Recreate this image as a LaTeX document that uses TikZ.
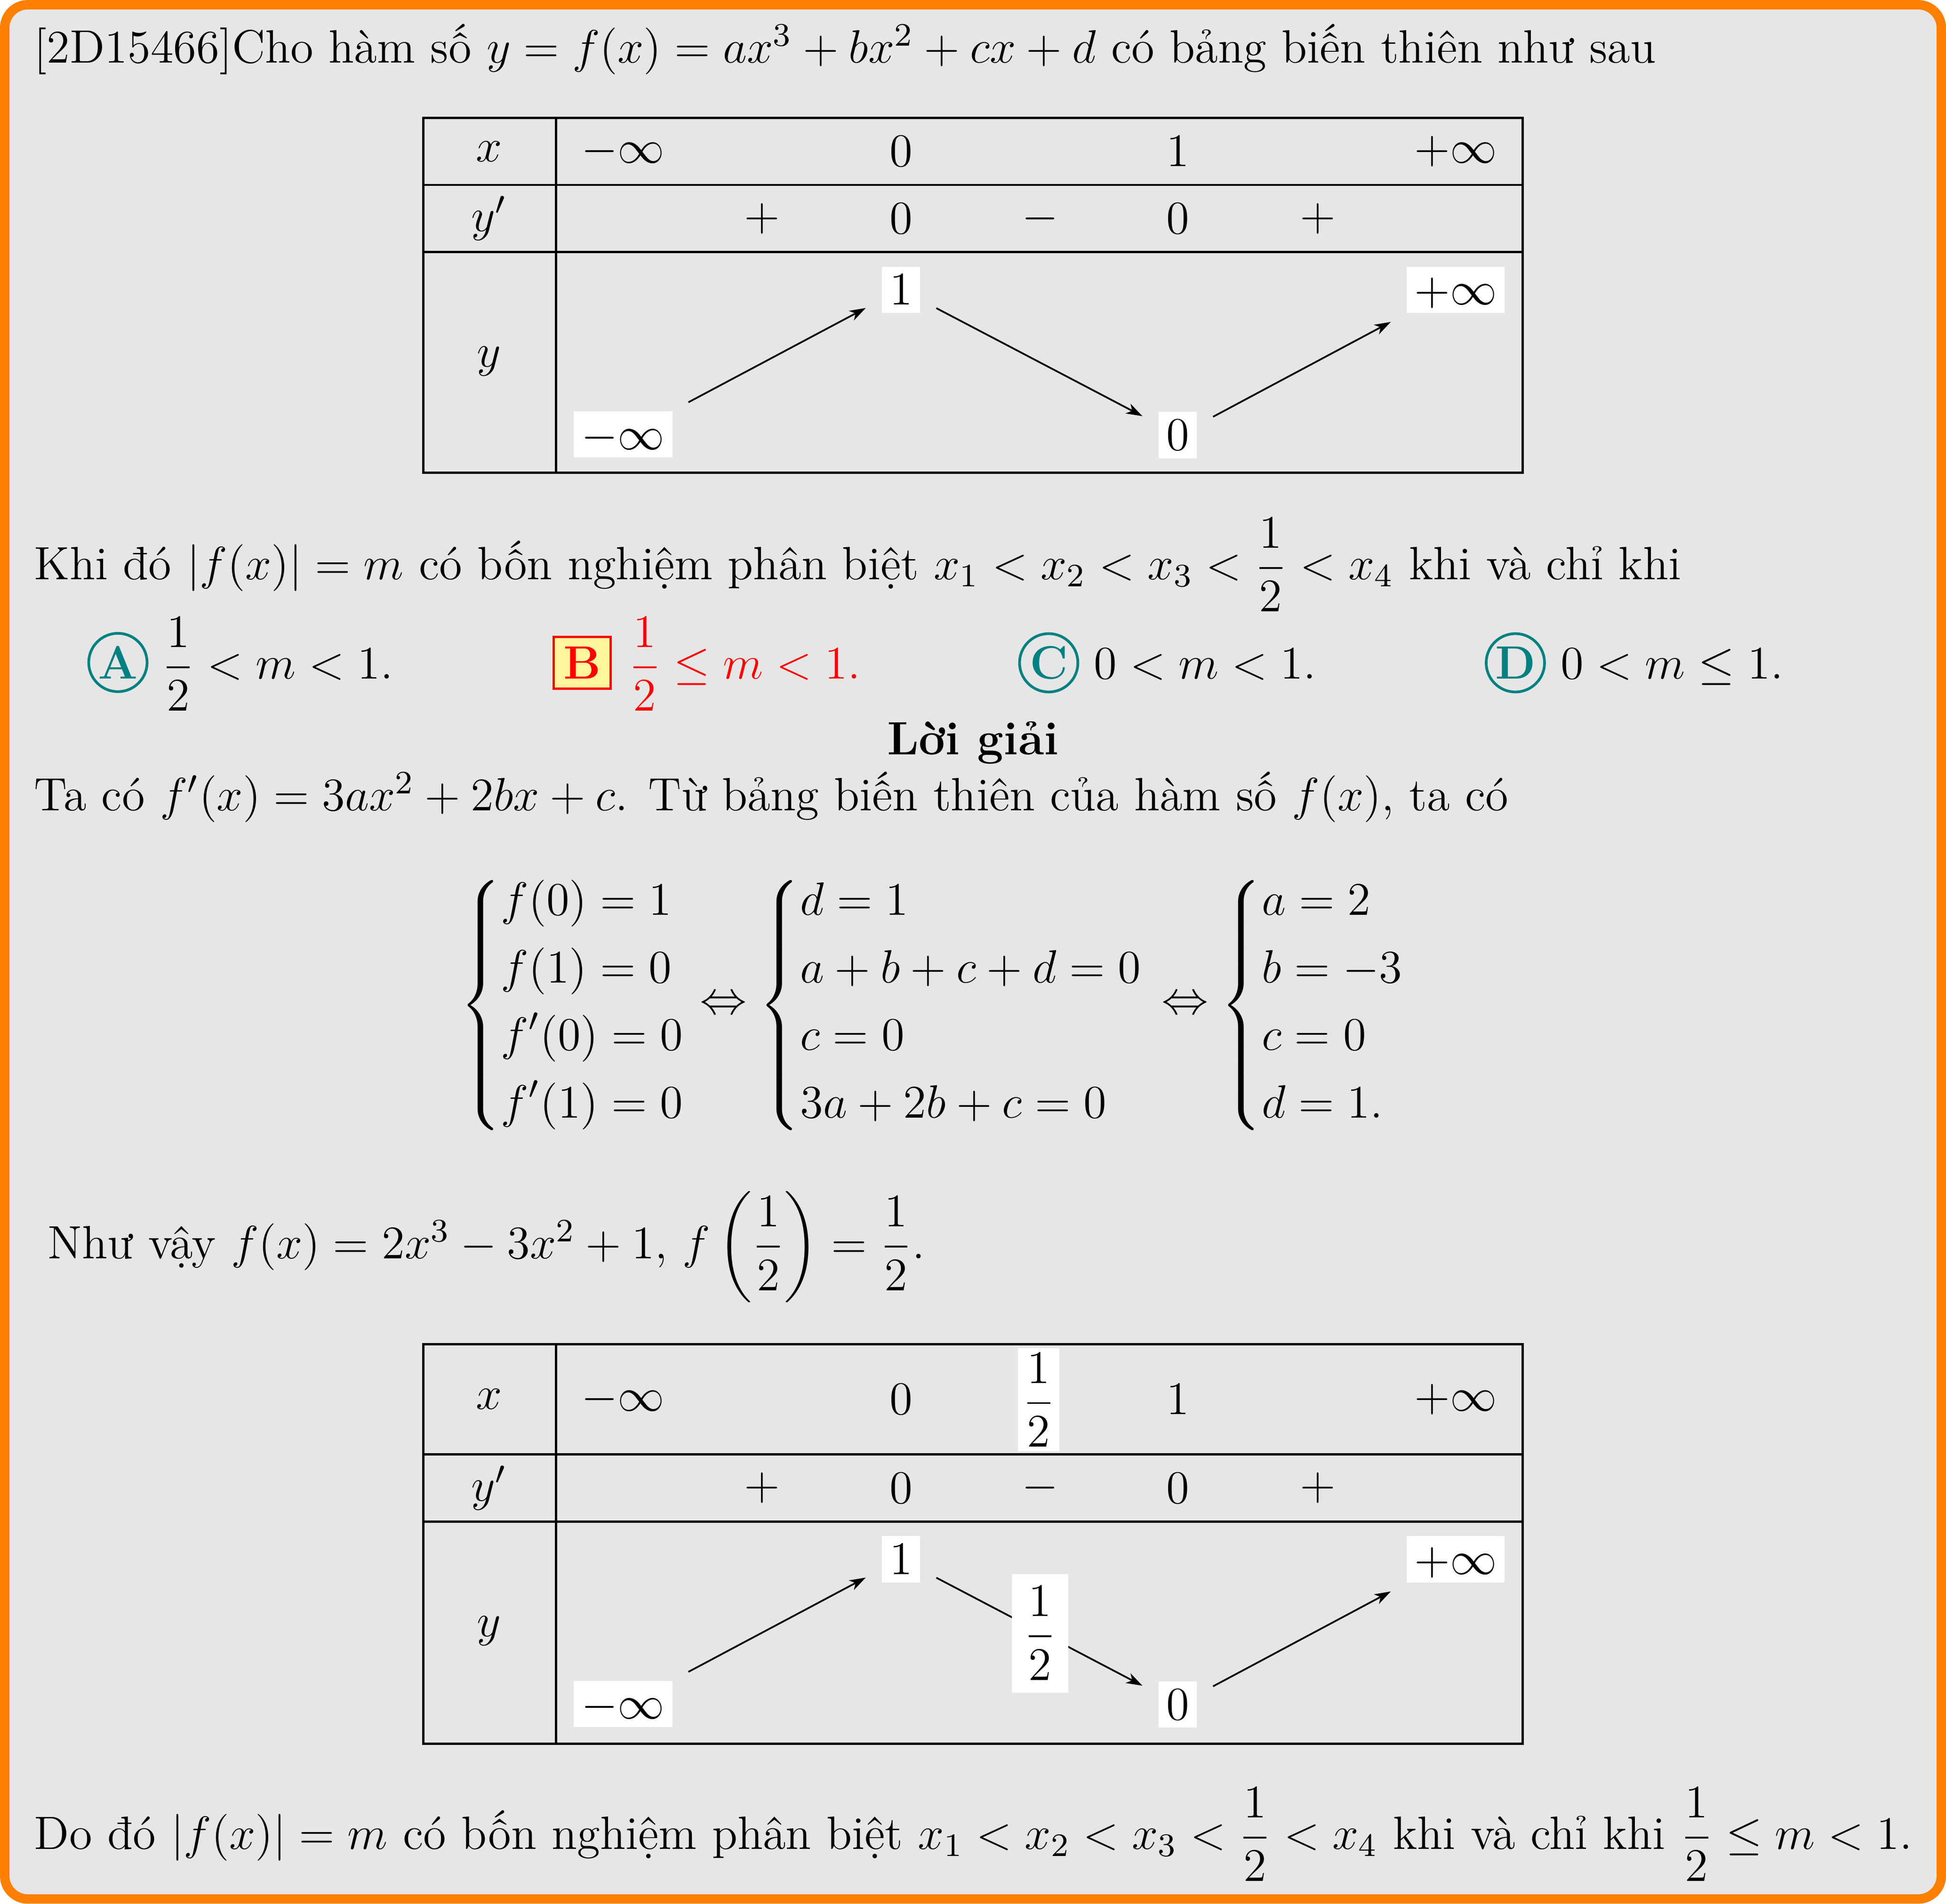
\RequirePackage{fix-cm}
\documentclass[tikz,border=0pt,12pt]{standalone}
\usepackage{amsmath}
\usepackage{fontspec}
\usetikzlibrary{arrows.meta,calc}
\definecolor{frameorange}{RGB}{255,128,0}
\definecolor{bggray}{RGB}{230,230,230}
\definecolor{choiceteal}{RGB}{0,128,128}
\definecolor{ansyellow}{RGB}{255,245,157}
\newcommand{\myfont}{\fontsize{12.11}{14.5}\selectfont}
\begin{document}
\begin{tikzpicture}[x=0.32143pt,y=-0.32143pt,
  every node/.style={font=\myfont},
  txt/.style={inner sep=0pt, anchor=base west},
  cell/.style={inner sep=0pt, anchor=center},
  vbox/.style={fill=white, inner xsep=2pt, inner ysep=1.9pt, text height=8pt, text depth=0.2pt, anchor=center},
  tline/.style={line width=0.6pt},
  varrow/.style={-{Stealth[length=4.2pt,width=2.8pt,inset=1.2pt]}, line width=0.45pt, shorten <=4.5pt, shorten >=4.5pt},
  circ/.style={circle, draw=choiceteal, line width=0.7pt, text=choiceteal, font=\myfont\bfseries, inner sep=0pt, minimum size=15.1pt, anchor=base},
  rightans/.style={draw=red, fill=ansyellow, line width=0.6pt, text=red, font=\myfont\bfseries, inner xsep=2.5pt, inner ysep=2.6pt, anchor=base},
  sys/.style={inner sep=0pt, anchor=west}
]
\useasboundingbox (0,0) rectangle (1568,1534);
\fill[white] (0,0) rectangle (1568,1534);
\draw[frameorange, fill=bggray, line width=2.44pt, rounded corners=6pt] (3.8,3.8) rectangle (1564.2,1530.2);

% line 1
\node[txt] (l1) at (27,50.5) {[2D15466]Cho hàm số $y=f(x)=ax^3+bx^2+cx+d$ có bảng biến thiên như sau};

% table 1
\draw[tline] (341,95) rectangle (1227,381);
\draw[tline] (448,95) -- (448,381);
\draw[tline] (341,149) -- (1227,149);
\draw[tline] (341,203) -- (1227,203);
\node[cell] (a1x) at (394,122) {$x$};
\node[cell] (a1a) at (502,122) {$-\infty$};
\node[cell] (a1b) at (726,122) {$0$};
\node[cell] (a1c) at (949,122) {$1$};
\node[cell] (a1d) at (1173,122) {$+\infty$};
\node[cell] (b1y) at (394,176) {$y'$};
\node[cell] (b1a) at (614,176) {$+$};
\node[cell] (b1b) at (726,176) {$0$};
\node[cell] (b1c) at (838,176) {$-$};
\node[cell] (b1d) at (949,176) {$0$};
\node[cell] (b1e) at (1062,176) {$+$};
\node[cell] (c1y) at (394,291) {$y$};
\node[vbox] (m1) at (502,350) {$-\infty$};
\node[vbox] (o1) at (726,233.5) {$1$};
\node[vbox] (z1) at (949,350.5) {$0$};
\node[vbox] (p1) at (1173,233.5) {$+\infty$};
\draw[varrow] (m1.north east) -- ($(o1.west)!0.42!(o1.south west)$);
\draw[varrow] ($(o1.east)!0.43!(o1.south east)$) -- ($(z1.west)!0.45!(z1.north west)$);
\draw[varrow] ($(z1.east)!0.42!(z1.north east)$) -- (p1.south west);

% question
\node[txt] (l2) at (27,467) {Khi đó $|f(x)|=m$ có bốn nghiệm phân biệt $x_1<x_2<x_3<\dfrac{1}{2}<x_4$ khi và chỉ khi};

% choices
\node[circ] (ca) at (95,547) {A};
\node[txt] (ta) at (130,547) {$\dfrac{1}{2}<m<1.$};
\node[rightans] (cb) at (469,547) {B};
\node[txt, text=red] (tb) at (506,547) {$\dfrac{1}{2}\le m<1.$};
\node[circ] (cc) at (845,547) {C};
\node[txt] (tc) at (881,547) {$0<m<1.$};
\node[circ] (cd) at (1221,547) {D};
\node[txt] (td) at (1257,547) {$0<m\le 1.$};

% solution
\node[anchor=base, inner sep=0pt, font=\myfont\bfseries] (lg) at (784,608) {Lời giải};
\node[txt] (l3) at (27,653) {Ta có $f'(x)=3ax^2+2bx+c$. Từ bảng biến thiên của hàm số $f(x)$, ta có};

% system
\node[sys] (s1) at (370,810) {$\left\{\begin{aligned}&f(0)=1\\ &f(1)=0\\ &f'(0)=0\\ &f'(1)=0\end{aligned}\right.$};
\node[inner sep=0pt, anchor=center] (e1) at (583,810) {$\Leftrightarrow$};
\node[sys] (s2) at (611,810) {$\left\{\begin{aligned}&d=1\\ &a+b+c+d=0\\ &c=0\\ &3a+2b+c=0\end{aligned}\right.$};
\node[inner sep=0pt, anchor=center] (e2) at (955,810) {$\Leftrightarrow$};
\node[sys] (s3) at (983,810) {$\left\{\begin{aligned}&a=2\\ &b=-3\\ &c=0\\ &d=1.\end{aligned}\right.$};

\node[txt] (l4) at (38,1014) {Như vậy $f(x)=2x^3-3x^2+1$, $f\left(\dfrac{1}{2}\right)=\dfrac{1}{2}$.};

% table 2
\draw[tline] (341,1083) rectangle (1227,1405);
\draw[tline] (448,1083) -- (448,1405);
\draw[tline] (341,1172) -- (1227,1172);
\draw[tline] (341,1226) -- (1227,1226);
\node[cell] (a2x) at (394,1127.5) {$x$};
\node[cell] (a2a) at (502,1127.5) {$-\infty$};
\node[cell] (a2b) at (726,1127.5) {$0$};
\node[fill=white, inner xsep=1.2pt, inner ysep=1.2pt, anchor=center] (a2h) at (837,1128) {$\dfrac{1}{2}$};
\node[cell] (a2c) at (949,1127.5) {$1$};
\node[cell] (a2d) at (1173,1127.5) {$+\infty$};
\node[cell] (b2y) at (394,1199) {$y'$};
\node[cell] (b2a) at (614,1199) {$+$};
\node[cell] (b2b) at (726,1199) {$0$};
\node[cell] (b2c) at (838,1199) {$-$};
\node[cell] (b2d) at (949,1199) {$0$};
\node[cell] (b2e) at (1062,1199) {$+$};
\node[cell] (c2y) at (394,1314) {$y$};
\node[vbox] (m2) at (502,1373) {$-\infty$};
\node[vbox] (o2) at (726,1256.5) {$1$};
\node[vbox] (z2) at (949,1373.5) {$0$};
\node[vbox] (p2) at (1173,1256.5) {$+\infty$};
\draw[varrow] (m2.north east) -- ($(o2.west)!0.42!(o2.south west)$);
\draw[varrow] ($(o2.east)!0.43!(o2.south east)$) -- ($(z2.west)!0.45!(z2.north west)$);
\draw[varrow] ($(z2.east)!0.42!(z2.north east)$) -- (p2.south west);
\node[fill=white, inner xsep=3.2pt, inner ysep=3.2pt, anchor=center] (h2) at (838,1316) {$\dfrac{1}{2}$};

\node[txt] (l5) at (27,1490) {Do đó $|f(x)|=m$ có bốn nghiệm phân biệt $x_1<x_2<x_3<\dfrac{1}{2}<x_4$ khi và chỉ khi $\dfrac{1}{2}\le m<1$.};
\end{tikzpicture}
\end{document}
